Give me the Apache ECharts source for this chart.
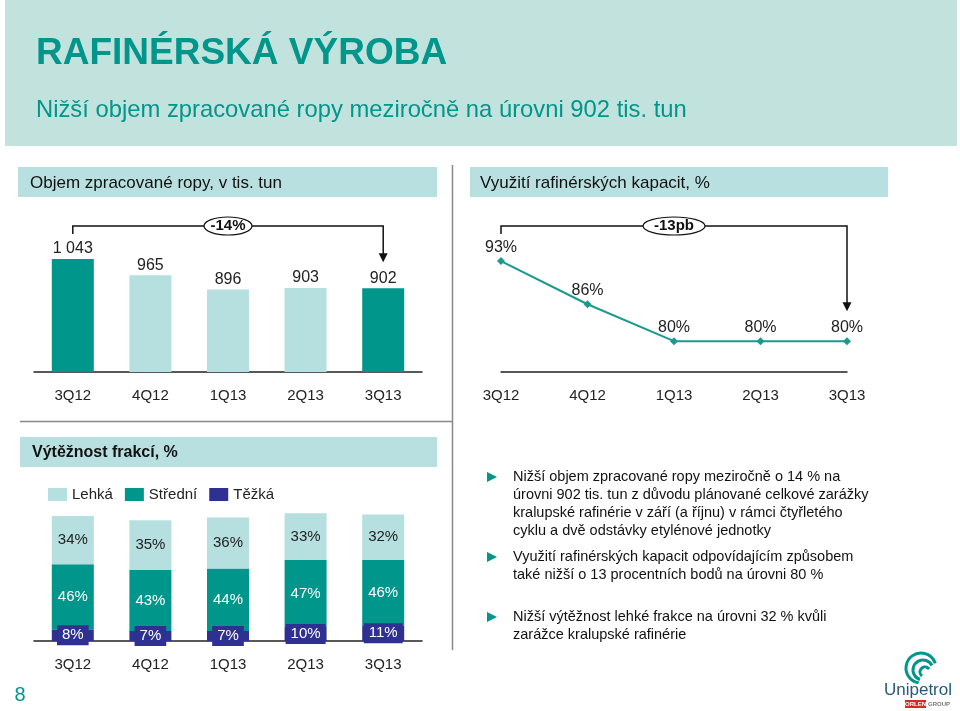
<!DOCTYPE html>
<html>
<head>
<meta charset="utf-8">
<script src="https://cdn.jsdelivr.net/npm/echarts@6/dist/echarts.min.js"></script>
<style>
html,body{margin:0;padding:0;background:#fff;}
#c{width:960px;height:711px;}
</style>
</head>
<body>
<div id="c"></div>
<script>
// ---- data ----
const categories = ['3Q12', '4Q12', '1Q13', '2Q13', '3Q13'];
const volume = [1043, 965, 896, 903, 902];          // tis. tun
const utilisation = [93, 86, 80, 80, 80];           // %
const lightYield = [34, 35, 36, 33, 32];            // Lehká %
const middleYield = [46, 43, 44, 47, 46];           // Střední %
const heavyYield = [8, 7, 7, 10, 11];               // Těžká %
const seriesNames = ['Lehká', 'Střední', 'Těžká'];
const volumeChange = '-14%';
const utilChange = '-13pb';

const FONT = '"Liberation Sans", Arial, sans-serif';
const DARK = '#00968b';
const LIGHT = '#b6dfdf';
const BLUE = '#2e3192';
const HEAD = '#c2e2de';
const BOX = '#b9e0e0';

const chart = echarts.init(document.getElementById('c'), null, {renderer: 'canvas'});

function fmtThousands(v) {
  return String(v).replace(/\B(?=(\d{3})+(?!\d))/g, ' ');
}

const baseGraphic = [
  // header panel
  {type: 'rect', shape: {x: 5, y: 0, width: 952, height: 146}, style: {fill: HEAD}, z: -1},
  {type: 'text', left: 36, top: 35, style: {text: 'RAFINÉRSKÁ VÝROBA', fill: DARK, font: 'bold 37px ' + FONT}},
  {type: 'text', left: 36, top: 98, style: {text: 'Nižší objem zpracované ropy meziročně na úrovni 902 tis. tun', fill: DARK, font: '23.8px ' + FONT}},
  // section boxes
  {type: 'rect', shape: {x: 18, y: 167, width: 419, height: 30}, style: {fill: BOX}, z: -1},
  {type: 'text', x: 30, y: 183, style: {text: 'Objem zpracované ropy, v tis. tun', fill: '#111', font: '17px ' + FONT, textVerticalAlign: 'middle'}},
  {type: 'rect', shape: {x: 470, y: 167, width: 418, height: 30}, style: {fill: BOX}, z: -1},
  {type: 'text', x: 480, y: 183, style: {text: 'Využití rafinérských kapacit, %', fill: '#111', font: '17px ' + FONT, textVerticalAlign: 'middle'}},
  {type: 'rect', shape: {x: 20, y: 437, width: 417, height: 30}, style: {fill: BOX}, z: -1},
  {type: 'text', x: 32, y: 453, style: {text: 'Výtěžnost frakcí, %', fill: '#111', font: 'bold 16px ' + FONT, textVerticalAlign: 'middle'}},
  // separators
  {type: 'line', shape: {x1: 452.5, y1: 165, x2: 452.5, y2: 650}, style: {stroke: '#888', lineWidth: 1.5}},
  {type: 'line', shape: {x1: 20, y1: 421.5, x2: 452.5, y2: 421.5}, style: {stroke: '#888', lineWidth: 1.5}},
  // page number
  {type: 'text', x: 20, y: 695, style: {text: '8', fill: DARK, font: '20px ' + FONT, textAlign: 'center', textVerticalAlign: 'middle'}},
];

// bullets
const bullets = [
  {y: 477, lines: ['Nižší objem zpracované ropy meziročně o 14 % na',
                   'úrovni 902 tis. tun z důvodu plánované celkové zarážky',
                   'kralupské rafinérie v září (a říjnu) v rámci čtyřletého',
                   'cyklu a dvě odstávky etylénové jednotky']},
  {y: 557, lines: ['Využití rafinérských kapacit odpovídajícím způsobem',
                   'také nižší o 13 procentních bodů na úrovni 80 %']},
  {y: 617, lines: ['Nižší výtěžnost lehké frakce na úrovni 32 % kvůli',
                   'zarážce kralupské rafinérie']},
];
bullets.forEach(b => {
  baseGraphic.push({type: 'polygon', shape: {points: [[487, b.y - 5], [497, b.y], [487, b.y + 5]]}, style: {fill: DARK}});
  b.lines.forEach((t, i) => {
    baseGraphic.push({type: 'text', x: 513, y: b.y + i * 18, style: {text: t, fill: '#111', font: '14.5px ' + FONT, textVerticalAlign: 'middle'}});
  });
});

// logo
baseGraphic.push(
  {type: 'arc', shape: {cx: 921, cy: 668, r: 15, startAngle: Math.PI * 0.55, endAngle: Math.PI * 1.9}, style: {stroke: DARK, lineWidth: 3, fill: null}},
  {type: 'arc', shape: {cx: 923, cy: 670, r: 10, startAngle: Math.PI * 0.6, endAngle: Math.PI * 1.85}, style: {stroke: DARK, lineWidth: 3, fill: null}},
  {type: 'arc', shape: {cx: 925, cy: 672, r: 5, startAngle: Math.PI * 0.7, endAngle: Math.PI * 1.8}, style: {stroke: DARK, lineWidth: 3, fill: null}},
  {type: 'text', x: 918, y: 690, style: {text: 'Unipetrol', fill: '#265a7a', font: '17px ' + FONT, textAlign: 'center', textVerticalAlign: 'middle'}},
  {type: 'rect', shape: {x: 905, y: 700, width: 21, height: 8}, style: {fill: '#d52b1e'}},
  {type: 'text', x: 915.5, y: 704, style: {text: 'ORLEN', fill: '#fff', font: 'bold 6px ' + FONT, textAlign: 'center', textVerticalAlign: 'middle'}},
  {type: 'text', x: 928, y: 704, style: {text: 'GROUP', fill: '#777', font: 'bold 6px ' + FONT, textVerticalAlign: 'middle'}}
);

const catAxisCommon = {
  type: 'category',
  axisTick: {show: false},
  axisLine: {lineStyle: {color: '#222', width: 1.5}},
  axisLabel: {color: '#222', fontSize: 15, fontFamily: FONT, margin: 16},
};

const option = {
  animation: false,
  backgroundColor: '#fff',
  textStyle: {fontFamily: FONT},
  grid: [
    {left: 34, right: 538, top: 247, height: 125},
    {left: 501, right: 113, top: 218, height: 154},
    {left: 34, right: 538, top: 499, height: 142},
  ],
  xAxis: [
    Object.assign({gridIndex: 0, data: categories}, catAxisCommon),
    Object.assign({gridIndex: 1, data: categories, boundaryGap: false}, catAxisCommon),
    Object.assign({gridIndex: 2, data: categories}, catAxisCommon),
  ],
  yAxis: [
    {gridIndex: 0, type: 'value', min: 500, max: 1100, show: false},
    {gridIndex: 1, type: 'value', min: 75, max: 100, show: false},
    {gridIndex: 2, type: 'value', min: 0, max: 100, show: false},
  ],
  legend: {
    left: 43, top: 482, itemWidth: 19, itemHeight: 13, itemGap: 12,
    icon: 'rect',
    data: seriesNames,
    textStyle: {fontSize: 15, color: '#222', fontFamily: FONT},
  },
  series: [
    {
      type: 'bar', xAxisIndex: 0, yAxisIndex: 0, barWidth: 42,
      data: volume.map((v, i) => ({value: v, itemStyle: {color: (i === 0 || i === volume.length - 1) ? DARK : LIGHT}})),
      label: {show: true, position: 'top', distance: 2, color: '#222', fontSize: 16, fontFamily: FONT, formatter: p => fmtThousands(p.value)},
    },
    {
      type: 'line', xAxisIndex: 1, yAxisIndex: 1, data: utilisation,
      lineStyle: {color: '#1a9a8e', width: 2},
      itemStyle: {color: '#1a9a8e'},
      symbol: 'diamond', symbolSize: 8,
      label: {show: true, position: 'top', distance: 2, color: '#222', fontSize: 16, fontFamily: FONT, formatter: p => p.value + '%'},
    },
    {
      name: seriesNames[2], type: 'bar', xAxisIndex: 2, yAxisIndex: 2, stack: 'y', barWidth: 42,
      data: heavyYield, itemStyle: {color: BLUE},
      label: {show: true, position: 'inside', color: '#fff', fontSize: 15, fontFamily: FONT, backgroundColor: BLUE, padding: [3, 5, 2, 5], formatter: p => p.value + '%'},
      z: 3,
    },
    {
      name: seriesNames[1], type: 'bar', xAxisIndex: 2, yAxisIndex: 2, stack: 'y', barWidth: 42,
      data: middleYield, itemStyle: {color: DARK},
      label: {show: true, position: 'inside', color: '#fff', fontSize: 15, fontFamily: FONT, formatter: p => p.value + '%'},
    },
    {
      name: seriesNames[0], type: 'bar', xAxisIndex: 2, yAxisIndex: 2, stack: 'y', barWidth: 42,
      data: lightYield, itemStyle: {color: LIGHT},
      label: {show: true, position: 'inside', color: '#222', fontSize: 15, fontFamily: FONT, formatter: p => p.value + '%'},
    },
  ],
  graphic: baseGraphic,
};

chart.setOption(option);

// brackets, positioned from the axes
function bracket(gridX, firstCat, lastCat, dropLeftTo, dropRightTo, yTop) {
  const xL = chart.convertToPixel({xAxisIndex: gridX}, firstCat);
  const xR = chart.convertToPixel({xAxisIndex: gridX}, lastCat);
  const xm = (xL + xR) / 2;
  const els = [
    {type: 'polyline', shape: {points: [[xL, dropLeftTo], [xL, yTop], [xR, yTop], [xR, dropRightTo - 8]]}, style: {stroke: '#111', lineWidth: 1.5, fill: null}},
    {type: 'polygon', shape: {points: [[xR - 4.5, dropRightTo - 9], [xR + 4.5, dropRightTo - 9], [xR, dropRightTo]]}, style: {fill: '#111'}},
  ];
  return {els, xm};
}
function oval(x, y, w, h, text) {
  return [
    {type: 'ellipse', shape: {cx: x, cy: y, rx: w / 2, ry: h / 2}, style: {fill: '#fff', stroke: '#111', lineWidth: 1.2}, z: 10},
    {type: 'text', x: x, y: y, z: 11, style: {text: text, fill: '#111', font: 'bold 15px ' + FONT, textAlign: 'center', textVerticalAlign: 'middle'}},
  ];
}

const yBarLast = chart.convertToPixel({yAxisIndex: 0}, volume[volume.length - 1]);
const yLineLast = chart.convertToPixel({yAxisIndex: 1}, utilisation[utilisation.length - 1]);
const b1 = bracket(0, categories[0], categories[categories.length - 1], 234, yBarLast - 26, 226);
const b2 = bracket(1, categories[0], categories[categories.length - 1], 234, yLineLast - 30, 226);
const extra = [].concat(b1.els, oval(b1.xm, 226, 48, 18, volumeChange), b2.els, oval(b2.xm, 226, 62, 18, utilChange));
chart.setOption({graphic: baseGraphic.concat(extra)});
</script>
</body>
</html>
